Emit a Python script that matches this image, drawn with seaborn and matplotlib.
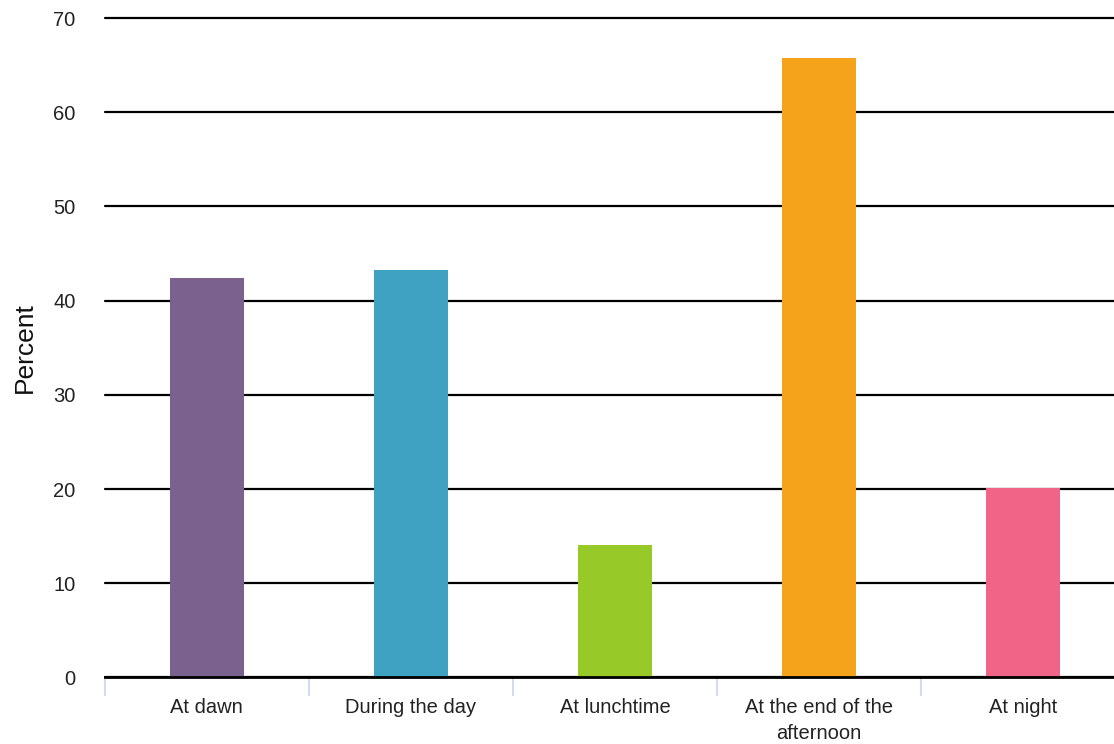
import matplotlib
matplotlib.use("Agg")
import matplotlib.pyplot as plt
from matplotlib.ticker import FixedLocator
import seaborn as sns
import pandas as pd

categories = ["At dawn", "During the day", "At lunchtime",
              "At the end of the\nafternoon", "At night"]
percent = [42.4, 43.3, 14.1, 65.8, 20.1]
colors = ["#7B618D", "#3FA2C2", "#97C928", "#F5A31A", "#F06487"]
y_ticks = [0, 10, 20, 30, 40, 50, 60, 70]

sns.set_theme(style="white")
plt.rcParams["font.family"] = ["Liberation Sans", "DejaVu Sans"]

df = pd.DataFrame({"category": categories, "percent": percent})

fig = plt.figure(figsize=(11.14, 7.44), dpi=100)
# the plotting area runs slightly past the right edge of the canvas
ax = fig.add_axes([0.094, 0.0894, 0.916, 0.8864])

sns.barplot(data=df, x="category", y="percent", hue="category",
            palette=colors, width=0.364, legend=False, saturation=1,
            linewidth=0, ax=ax, zorder=3)

ax.set_ylim(0, 70)
ax.set_xlim(-0.5, len(categories) - 0.5)
ax.set_yticks(y_ticks)
ax.yaxis.grid(True, color="black", linewidth=1.6, zorder=1)
ax.set_axisbelow(True)
for gl in ax.get_ygridlines():
    gl.set_clip_on(False)

for side in ["left", "right", "top"]:
    ax.spines[side].set_visible(False)
ax.spines["bottom"].set_color("black")
ax.spines["bottom"].set_linewidth(2)
ax.spines["bottom"].set_zorder(4)

ax.tick_params(axis="y", length=0, labelsize=14.5, pad=21, colors="#222222")
ax.tick_params(axis="x", which="major", length=0, labelsize=14.5, pad=15,
               colors="#222222")
for lbl in ax.get_xticklabels():
    lbl.set_linespacing(1.45)
ax.xaxis.set_minor_locator(FixedLocator([i - 0.5 for i in range(len(categories) + 1)]))
ax.tick_params(axis="x", which="minor", bottom=True, length=14, width=1.2,
               color="#CAD4EA", direction="out")

ax.set_xlabel("")
ax.set_ylabel("Percent", fontsize=19, labelpad=12, color="#111111")

fig.savefig("out.png", dpi=100)
